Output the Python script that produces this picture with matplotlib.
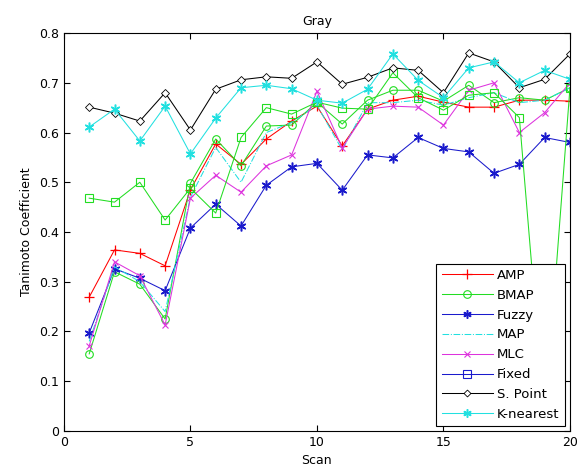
import matplotlib
matplotlib.use("Agg")
import matplotlib.pyplot as plt
from matplotlib.lines import Line2D
import numpy as np

# Scan-Nummern
scan = np.arange(1, 21)

amp = [0.269, 0.364, 0.357, 0.332, 0.485, 0.577, 0.536, 0.587, 0.623, 0.653,
       0.573, 0.647, 0.665, 0.673, 0.661, 0.651, 0.651, 0.665, 0.665, 0.663]
bmap = [0.155, 0.320, 0.295, 0.225, 0.498, 0.587, 0.533, 0.613, 0.615, 0.661,
        0.617, 0.665, 0.685, 0.685, 0.663, 0.695, 0.660, 0.670, 0.665, 0.690]
fuzzy = [0.197, 0.326, 0.307, 0.282, 0.408, 0.456, 0.412, 0.494, 0.531, 0.538,
         0.484, 0.555, 0.549, 0.590, 0.568, 0.561, 0.518, 0.536, 0.590, 0.580]
map_ = [0.180, 0.330, 0.300, 0.240, 0.470, 0.570, 0.500, 0.600, 0.620, 0.655,
        0.565, 0.660, 0.660, 0.665, 0.655, 0.670, 0.680, 0.660, 0.665, 0.690]
mlc = [0.171, 0.340, 0.312, 0.213, 0.468, 0.514, 0.480, 0.533, 0.555, 0.683,
       0.569, 0.647, 0.653, 0.651, 0.615, 0.685, 0.700, 0.600, 0.640, 0.700]
fixed = [0.468, 0.460, 0.500, 0.424, 0.488, 0.438, 0.590, 0.650, 0.637, 0.661,
         0.649, 0.647, 0.720, 0.670, 0.645, 0.675, 0.680, 0.630, 0.020, 0.690]
spoint = [0.651, 0.639, 0.623, 0.680, 0.605, 0.687, 0.706, 0.712, 0.709, 0.742,
          0.697, 0.711, 0.730, 0.725, 0.680, 0.760, 0.742, 0.690, 0.707, 0.758]
knear = [0.611, 0.647, 0.583, 0.653, 0.557, 0.629, 0.690, 0.695, 0.688, 0.665,
         0.659, 0.687, 0.758, 0.705, 0.670, 0.730, 0.742, 0.700, 0.725, 0.707]

rot = '#ff0000'
gruen = '#22dd22'
blau = '#1a1acc'
cyan = '#22e0e0'
mag = '#dd33dd'
stern = (6, 2, 0)   # Asterisk wie in MATLAB

fig = plt.figure(figsize=(5.81, 4.72), dpi=100)
ax = fig.add_axes([0.110, 0.087, 0.871, 0.843])

lw = 0.75
ax.plot(scan, amp, '-', marker='+', color=rot, lw=lw, ms=7, mew=0.9)
ax.plot(scan, bmap, '-', marker='o', color=gruen, lw=lw, ms=5.5, mfc='none', mew=0.8)
ax.plot(scan, fuzzy, '-', marker=stern, color=blau, lw=lw, ms=7, mew=1.1)
ax.plot(scan, map_, '-.', color=cyan, lw=lw)
ax.plot(scan, mlc, '-', marker='x', color=mag, lw=lw, ms=5, mew=0.8)
ax.plot(scan, fixed, '-', marker='s', color=gruen, lw=lw, ms=5.5, mfc='none', mew=0.8)
ax.plot(scan, spoint, '-', marker='D', color='black', lw=lw, ms=4.5, mfc='white', mew=0.6)
ax.plot(scan, knear, '-', marker=stern, color=cyan, lw=lw, ms=7, mew=1.1)

# Legende wie im Original (Fixed blau)
handles = [
    Line2D([], [], color=rot, marker='+', lw=lw, ms=7, mew=0.9),
    Line2D([], [], color=gruen, marker='o', mfc='none', lw=lw, ms=5.5, mew=0.8),
    Line2D([], [], color=blau, marker=stern, lw=lw, ms=6, mew=1.1),
    Line2D([], [], color=cyan, ls='-.', lw=lw),
    Line2D([], [], color=mag, marker='x', lw=lw, ms=4, mew=0.8),
    Line2D([], [], color=blau, marker='s', mfc='none', lw=lw, ms=5.5, mew=0.8),
    Line2D([], [], color='black', marker='D', mfc='white', lw=lw, ms=3.5, mew=0.6),
    Line2D([], [], color=cyan, marker=stern, lw=lw, ms=6, mew=1.1),
]
labels = ['AMP', 'BMAP', 'Fuzzy', 'MAP', 'MLC', 'Fixed', 'S. Point', 'K-nearest']
leg = ax.legend(handles, labels, loc='lower right', bbox_to_anchor=(0.990, 0.012),
                fontsize=9.5, frameon=True, fancybox=False, edgecolor='black',
                handlelength=3.9, handletextpad=0.3, labelspacing=0.52,
                borderpad=0.4, borderaxespad=0)
leg.get_frame().set_linewidth(0.8)
leg.get_frame().set_alpha(1)

ax.set_xlim(0, 20)
ax.set_ylim(0, 0.8)
ax.set_xticks([0, 5, 10, 15, 20])
ax.set_yticks(np.arange(0, 0.81, 0.1))
ax.set_yticklabels(['0', '0.1', '0.2', '0.3', '0.4', '0.5', '0.6', '0.7', '0.8'])
ax.tick_params(direction='in', top=True, right=True, labelsize=9, length=4)
for s in ax.spines.values():
    s.set_linewidth(0.8)
ax.set_title('Gray', fontsize=9)
ax.set_xlabel('Scan', fontsize=9)
ax.set_ylabel('Tanimoto Coefficient', fontsize=9)

fig.savefig('out.png', dpi=100)
